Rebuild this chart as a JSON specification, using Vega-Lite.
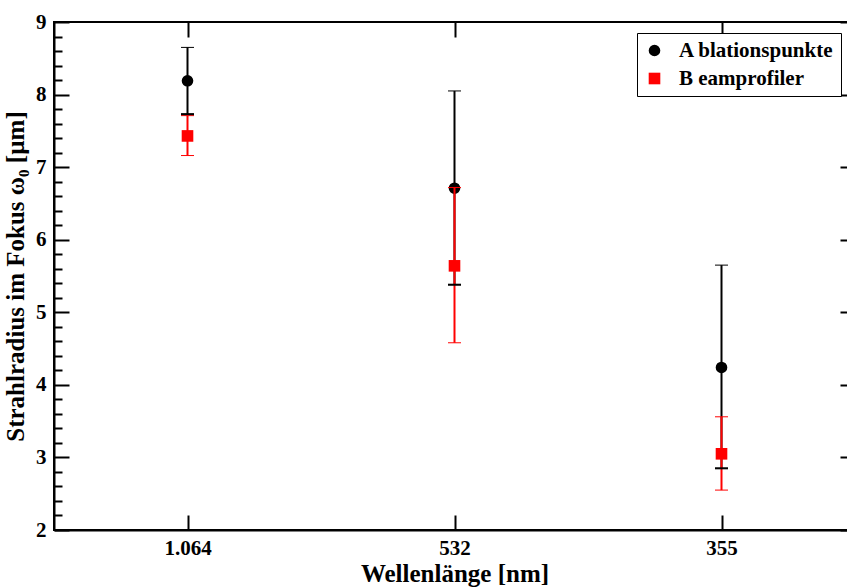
{
  "$schema": "https://vega.github.io/schema/vega-lite/v6.json",
  "width": 801,
  "height": 508,
  "autosize": {"type": "none"},
  "padding": {"left": 54, "top": 22, "right": 0, "bottom": 58},
  "background": "white",
  "config": {
    "view": {"stroke": "black", "strokeWidth": 2},
    "font": "Liberation Serif",
    "axis": {
      "domainColor": "black",
      "domainWidth": 2,
      "tickColor": "black",
      "tickWidth": 2,
      "grid": false,
      "zindex": 1,
      "labelFont": "Liberation Serif",
      "labelFontWeight": "bold",
      "labelFontSize": 21,
      "labelColor": "black",
      "titleFont": "Liberation Serif",
      "titleFontWeight": "bold",
      "titleFontSize": 25,
      "titleColor": "black"
    }
  },
  "data": {
    "values": [
      {"wl": "1.064", "series": "A blationspunkte", "value": 8.19, "lo": 7.73, "hi": 8.65},
      {"wl": "532", "series": "A blationspunkte", "value": 6.71, "lo": 5.38, "hi": 8.05},
      {"wl": "355", "series": "A blationspunkte", "value": 4.24, "lo": 2.85, "hi": 5.65},
      {"wl": "1.064", "series": "B eamprofiler", "value": 7.43, "lo": 7.16, "hi": 7.71},
      {"wl": "532", "series": "B eamprofiler", "value": 5.64, "lo": 4.58, "hi": 6.72},
      {"wl": "355", "series": "B eamprofiler", "value": 3.05, "lo": 2.55, "hi": 3.56}
    ]
  },
  "resolve": {"axis": {"x": "independent", "y": "independent"}},
  "layer": [
    {
      "transform": [{"filter": "datum.series === 'A blationspunkte'"}],
      "mark": {"type": "errorbar", "ticks": {"size": 13, "strokeWidth": 2, "opacity": 1}, "rule": {"strokeWidth": 2}},
      "encoding": {
        "x": {
          "field": "wl",
          "type": "nominal",
          "sort": ["1.064", "532", "355"],
          "scale": {"type": "point", "padding": 0.5},
          "axis": {
            "title": "Wellenlänge [nm]",
            "labelAngle": 0,
            "tickSize": -15,
            "labelPadding": 22,
            "titlePadding": 3
          }
        },
        "y": {
          "field": "lo",
          "type": "quantitative",
          "scale": {"domain": [2, 9], "nice": false, "zero": false},
          "axis": {
            "title": "Strahlradius im Fokus ω₀ [µm]",
            "values": [2, 3, 4, 5, 6, 7, 8, 9],
            "format": "d",
            "ticks": false,
            "labelPadding": 8,
            "titlePadding": 7
          }
        },
        "y2": {"field": "hi"},
        "color": {"value": "black"}
      }
    },
    {
      "transform": [{"filter": "datum.series === 'A blationspunkte'"}],
      "mark": {"type": "point", "filled": true, "opacity": 1, "size": 135},
      "encoding": {
        "x": {
          "field": "wl",
          "type": "nominal",
          "sort": ["1.064", "532", "355"],
          "axis": {"orient": "top", "title": null, "labels": false, "tickSize": -15, "domain": false}
        },
        "y": {
          "field": "value",
          "type": "quantitative",
          "axis": {
            "orient": "right",
            "offset": -801,
            "title": null,
            "labels": false,
            "domain": false,
            "values": [2, 3, 4, 5, 6, 7, 8, 9],
            "tickSize": 15
          }
        },
        "color": {
          "field": "series",
          "type": "nominal",
          "scale": {"domain": ["A blationspunkte", "B eamprofiler"], "range": ["black", "red"]},
          "legend": {
            "title": null,
            "orient": "none",
            "legendX": 583,
            "legendY": 11,
            "strokeColor": "black",
            "fillColor": "white",
            "padding": 7,
            "labelFont": "Liberation Serif",
            "labelFontWeight": "bold",
            "labelFontSize": 21,
            "labelColor": "black",
            "symbolSize": 135,
            "symbolStrokeWidth": 0,
            "rowPadding": 6,
            "labelOffset": 14
          }
        },
        "shape": {
          "field": "series",
          "type": "nominal",
          "scale": {"domain": ["A blationspunkte", "B eamprofiler"], "range": ["circle", "square"]}
        }
      }
    },
    {
      "transform": [{"filter": "datum.series === 'B eamprofiler'"}],
      "mark": {"type": "errorbar", "ticks": {"size": 13, "strokeWidth": 2, "opacity": 1}, "rule": {"strokeWidth": 2}},
      "encoding": {
        "x": {"field": "wl", "type": "nominal", "sort": ["1.064", "532", "355"], "axis": null},
        "y": {
          "field": "lo",
          "type": "quantitative",
          "axis": {
            "orient": "right",
            "title": null,
            "labels": false,
            "domain": false,
            "values": [2, 3, 4, 5, 6, 7, 8, 9],
            "tickSize": -15
          }
        },
        "y2": {"field": "hi"},
        "color": {"value": "red"}
      }
    },
    {
      "transform": [{"filter": "datum.series === 'B eamprofiler'"}],
      "mark": {"type": "point", "filled": true, "opacity": 1, "size": 135},
      "encoding": {
        "x": {"field": "wl", "type": "nominal", "sort": ["1.064", "532", "355"], "axis": null},
        "y": {
          "field": "value",
          "type": "quantitative",
          "axis": {
            "orient": "right",
            "offset": -801,
            "title": null,
            "labels": false,
            "domain": false,
            "values": [2.2, 2.4, 2.6, 2.8, 3.2, 3.4, 3.6, 3.8, 4.2, 4.4, 4.6, 4.8, 5.2, 5.4, 5.6, 5.8, 6.2, 6.4, 6.6, 6.8, 7.2, 7.4, 7.6, 7.8, 8.2, 8.4, 8.6, 8.8],
            "tickSize": 8
          }
        },
        "color": {"field": "series", "type": "nominal"},
        "shape": {"field": "series", "type": "nominal"}
      }
    },
    {
      "transform": [{"filter": "datum.series === 'A blationspunkte'"}],
      "mark": {"type": "tick", "color": "black", "size": 13, "thickness": 2, "opacity": 1},
      "encoding": {
        "x": {"field": "wl", "type": "nominal", "sort": ["1.064", "532", "355"], "axis": null},
        "y": {"field": "lo", "type": "quantitative", "axis": null}
      }
    }
  ]
}
